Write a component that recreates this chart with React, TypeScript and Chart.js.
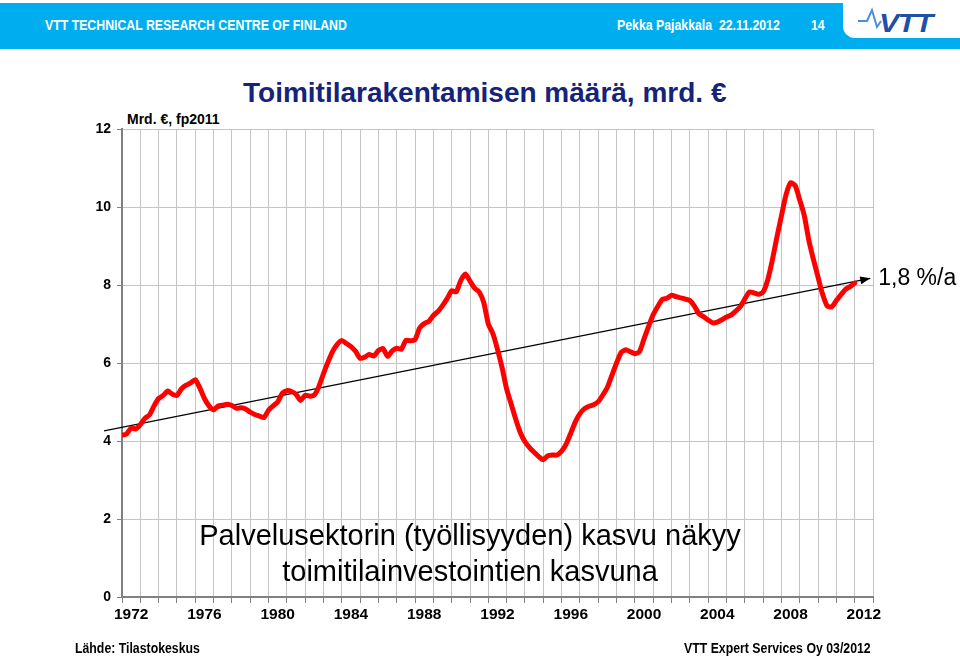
import React, { useEffect, useRef } from 'react';
import { Chart, registerables } from 'chart.js';

Chart.register(...registerables);

// ---- Data ----
const firstYear = 1972;
const lastYear = 2012;
const yearLabels: string[] = Array.from({ length: lastYear - firstYear + 1 }, (_, i) => String(firstYear + i));
const labelledYears = ['1972', '1976', '1980', '1984', '1988', '1992', '1996', '2000', '2004', '2008', '2012'];
const yTicks = [0, 2, 4, 6, 8, 10, 12];

// Quarterly building volume, bn € (fp2011), starting 1972 Q1
const q1970s = [4.15, 4.18, 4.33, 4.31, 4.42, 4.58, 4.67, 4.90, 5.09, 5.17, 5.28, 5.20, 5.17, 5.34, 5.43, 5.49,
  5.57, 5.36, 5.09, 4.90, 4.80, 4.90, 4.92, 4.94, 4.91, 4.84, 4.85, 4.82, 4.74, 4.68, 4.64, 4.60];
const q1980s = [4.79, 4.90, 5.00, 5.22, 5.29, 5.27, 5.20, 5.04, 5.17, 5.15, 5.18, 5.40, 5.73, 6.03, 6.30, 6.48,
  6.58, 6.50, 6.42, 6.30, 6.12, 6.15, 6.22, 6.18, 6.32, 6.37, 6.17, 6.31, 6.38, 6.35, 6.58, 6.57,
  6.60, 6.90, 7.01, 7.07, 7.22, 7.32, 7.47, 7.65];
const q1990s = [7.85, 7.83, 8.12, 8.28, 8.10, 7.92, 7.82, 7.55, 7.00, 6.75, 6.35, 5.88, 5.33, 4.94, 4.55, 4.21,
  3.98, 3.83, 3.71, 3.60, 3.52, 3.62, 3.64, 3.64, 3.74, 3.92, 4.20, 4.49, 4.70, 4.83, 4.89, 4.93,
  5.01, 5.18, 5.38, 5.69, 6.00, 6.27, 6.34, 6.29];
const q2000s = [6.24, 6.29, 6.62, 6.94, 7.24, 7.45, 7.63, 7.66, 7.74, 7.70, 7.67, 7.64, 7.60, 7.46, 7.26, 7.19,
  7.10, 7.03, 7.05, 7.11, 7.18, 7.23, 7.33, 7.44, 7.64, 7.82, 7.80, 7.76, 7.82, 8.13, 8.63, 9.22,
  9.77, 10.31, 10.62, 10.55, 10.18, 9.78, 9.14, 8.65];
const q2010s = [8.20, 7.76, 7.46, 7.44, 7.60, 7.75, 7.89, 7.96, 8.05];

// Trend arrow (1.8 %/a): start and end (year, value)
const trendYears = [1971.02, 2012.85];
const trendValues = [4.26, 8.17];
const trendLabel = '1,8 %/a';

const quarterly = [...q1970s, ...q1980s, ...q1990s, ...q2000s, ...q2010s];

const FONT = "'Liberation Sans', Arial, Helvetica, sans-serif";

const arrowPlugin = {
  id: 'trendArrow',
  afterDatasetsDraw(chart: any) {
    const meta = chart.getDatasetMeta(1);
    const pts = meta.data;
    if (!pts || pts.length < 2) return;
    const a = pts[pts.length - 2];
    const b = pts[pts.length - 1];
    const ang = Math.atan2(b.y - a.y, b.x - a.x);
    const ctx = chart.ctx;
    ctx.save();
    ctx.fillStyle = '#000';
    ctx.beginPath();
    const len = 10, half = 4;
    ctx.moveTo(b.x, b.y);
    ctx.lineTo(b.x - len * Math.cos(ang) + half * Math.sin(ang), b.y - len * Math.sin(ang) - half * Math.cos(ang));
    ctx.lineTo(b.x - len * Math.cos(ang) - half * Math.sin(ang), b.y - len * Math.sin(ang) + half * Math.cos(ang));
    ctx.closePath();
    ctx.fill();
    ctx.font = `23px ${FONT}`;
    ctx.textAlign = 'left';
    ctx.textBaseline = 'middle';
    ctx.fillText(trendLabel, b.x + 8, b.y);
    ctx.restore();
  },
};

export default function App() {
  const canvasRef = useRef<HTMLCanvasElement | null>(null);

  useEffect(() => {
    if (!canvasRef.current) return;
    const linePoints = quarterly.map((v, i) => ({ x: firstYear + i / 4, y: v }));
    const trendPoints = trendYears.map((x, i) => ({ x, y: trendValues[i] }));
    const chart = new Chart(canvasRef.current, {
      type: 'line',
      data: {
        labels: yearLabels,
        datasets: [
          {
            label: 'Toimitilarakentaminen',
            data: linePoints as any,
            xAxisID: 'xq',
            borderColor: '#ff0000',
            borderWidth: 5,
            pointRadius: 0,
            tension: 0.2,
            borderJoinStyle: 'round',
            borderCapStyle: 'round',
          },
          {
            label: 'Trendi',
            data: trendPoints as any,
            xAxisID: 'xq',
            borderColor: '#000000',
            borderWidth: 1.2,
            pointRadius: 0,
            tension: 0,
            clip: false as any,
          },
        ],
      },
      options: {
        responsive: false,
        animation: false,
        layout: { padding: { top: 129, right: 87, bottom: 30, left: 0 } },
        plugins: { legend: { display: false }, tooltip: { enabled: false } },
        scales: {
          x: {
            type: 'category',
            offset: true,
            grid: { offset: true, color: '#c4c4c4', lineWidth: 1, tickLength: 6, tickColor: '#808080' },
            border: { color: '#808080', width: 2 },
            ticks: {
              autoSkip: false,
              maxRotation: 0,
              padding: 2,
              color: '#000',
              font: { family: FONT, size: 15.5, weight: 'bold' },
              callback: function (this: any, _v: any, idx: number) {
                const l = yearLabels[idx];
                return labelledYears.includes(l) ? l : '';
              },
            },
            afterFit: (s: any) => { s.height = 30; },
          },
          xq: {
            type: 'linear',
            position: 'bottom',
            display: false,
            min: firstYear,
            max: lastYear + 1,
          },
          y: {
            min: 0,
            max: 12,
            afterBuildTicks: (s: any) => { s.ticks = yTicks.map((v) => ({ value: v })); },
            grid: { color: '#c4c4c4', lineWidth: 1, tickLength: 5, tickColor: '#808080' },
            border: { color: '#808080', width: 2 },
            ticks: {
              padding: 6,
              color: '#000',
              font: { family: FONT, size: 14, weight: 'bold' },
            },
            afterFit: (s: any) => { s.width = 122; },
          },
        },
      },
      plugins: [arrowPlugin],
    } as any);
    return () => chart.destroy();
  }, []);

  const abs = (o: React.CSSProperties): React.CSSProperties => ({ position: 'absolute', whiteSpace: 'nowrap', ...o });
  const narrow = (o: React.CSSProperties): React.CSSProperties =>
    abs({ fontSize: 15, fontWeight: 'bold', lineHeight: '18px', transform: 'scaleX(0.82)', transformOrigin: 'left top', ...o });

  return (
    <div style={{ position: 'absolute', left: 0, top: 0, width: 960, height: 657, background: '#fff', overflow: 'hidden', fontFamily: FONT }}>
      {/* header */}
      <div style={abs({ left: 0, top: 3, width: 960, height: 46, background: '#00aeef' })} />
      <div style={abs({ left: 843, top: 0, width: 117, height: 38, background: '#fff', borderBottomLeftRadius: 12 })} />
      <div style={narrow({ left: 45, top: 16, color: '#fff' })}>VTT TECHNICAL RESEARCH CENTRE OF FINLAND</div>
      <div style={narrow({ left: 617, top: 16, color: '#fff' })}>Pekka Pajakkala&nbsp; 22.11.2012</div>
      <div style={narrow({ left: 811, top: 16, color: '#fff' })}>14</div>
      <svg style={{ position: 'absolute', left: 0, top: 0 }} width={960} height={60}>
        <path d="M858 21 L867 21 L872 10 L877 27 L881 21" fill="none" stroke="#4a90d9" strokeWidth={2} />
      </svg>
      <div style={abs({ left: 879, top: 11, fontSize: 25, fontWeight: 900, fontStyle: 'italic', color: '#1f50a8', lineHeight: '25px', transform: 'scaleX(1.2)', transformOrigin: 'left top', letterSpacing: -1 })}>VTT</div>

      {/* title */}
      <div style={abs({ left: 243, top: 79, fontSize: 28, fontWeight: 'bold', color: '#15237a', lineHeight: '28px' })}>Toimitilarakentamisen määrä, mrd. €</div>
      <div style={abs({ left: 127, top: 111, fontSize: 14, fontWeight: 'bold', color: '#000', lineHeight: '16px' })}>Mrd. €, fp2011</div>

      <canvas ref={canvasRef} width={960} height={657} style={{ position: 'absolute', left: 0, top: 0, width: 960, height: 657 }} />

      {/* annotation */}
      <div style={abs({ left: 120, top: 517, width: 700, textAlign: 'center', fontSize: 29, color: '#000', lineHeight: '36px' })}>
        Palvelusektorin (työllisyyden) kasvu näkyy<br />toimitilainvestointien kasvuna
      </div>

      {/* footer */}
      <div style={narrow({ left: 75, top: 639, color: '#000' })}>Lähde: Tilastokeskus</div>
      <div style={narrow({ left: 684, top: 639, color: '#000' })}>VTT Expert Services Oy 03/2012</div>
    </div>
  );
}
